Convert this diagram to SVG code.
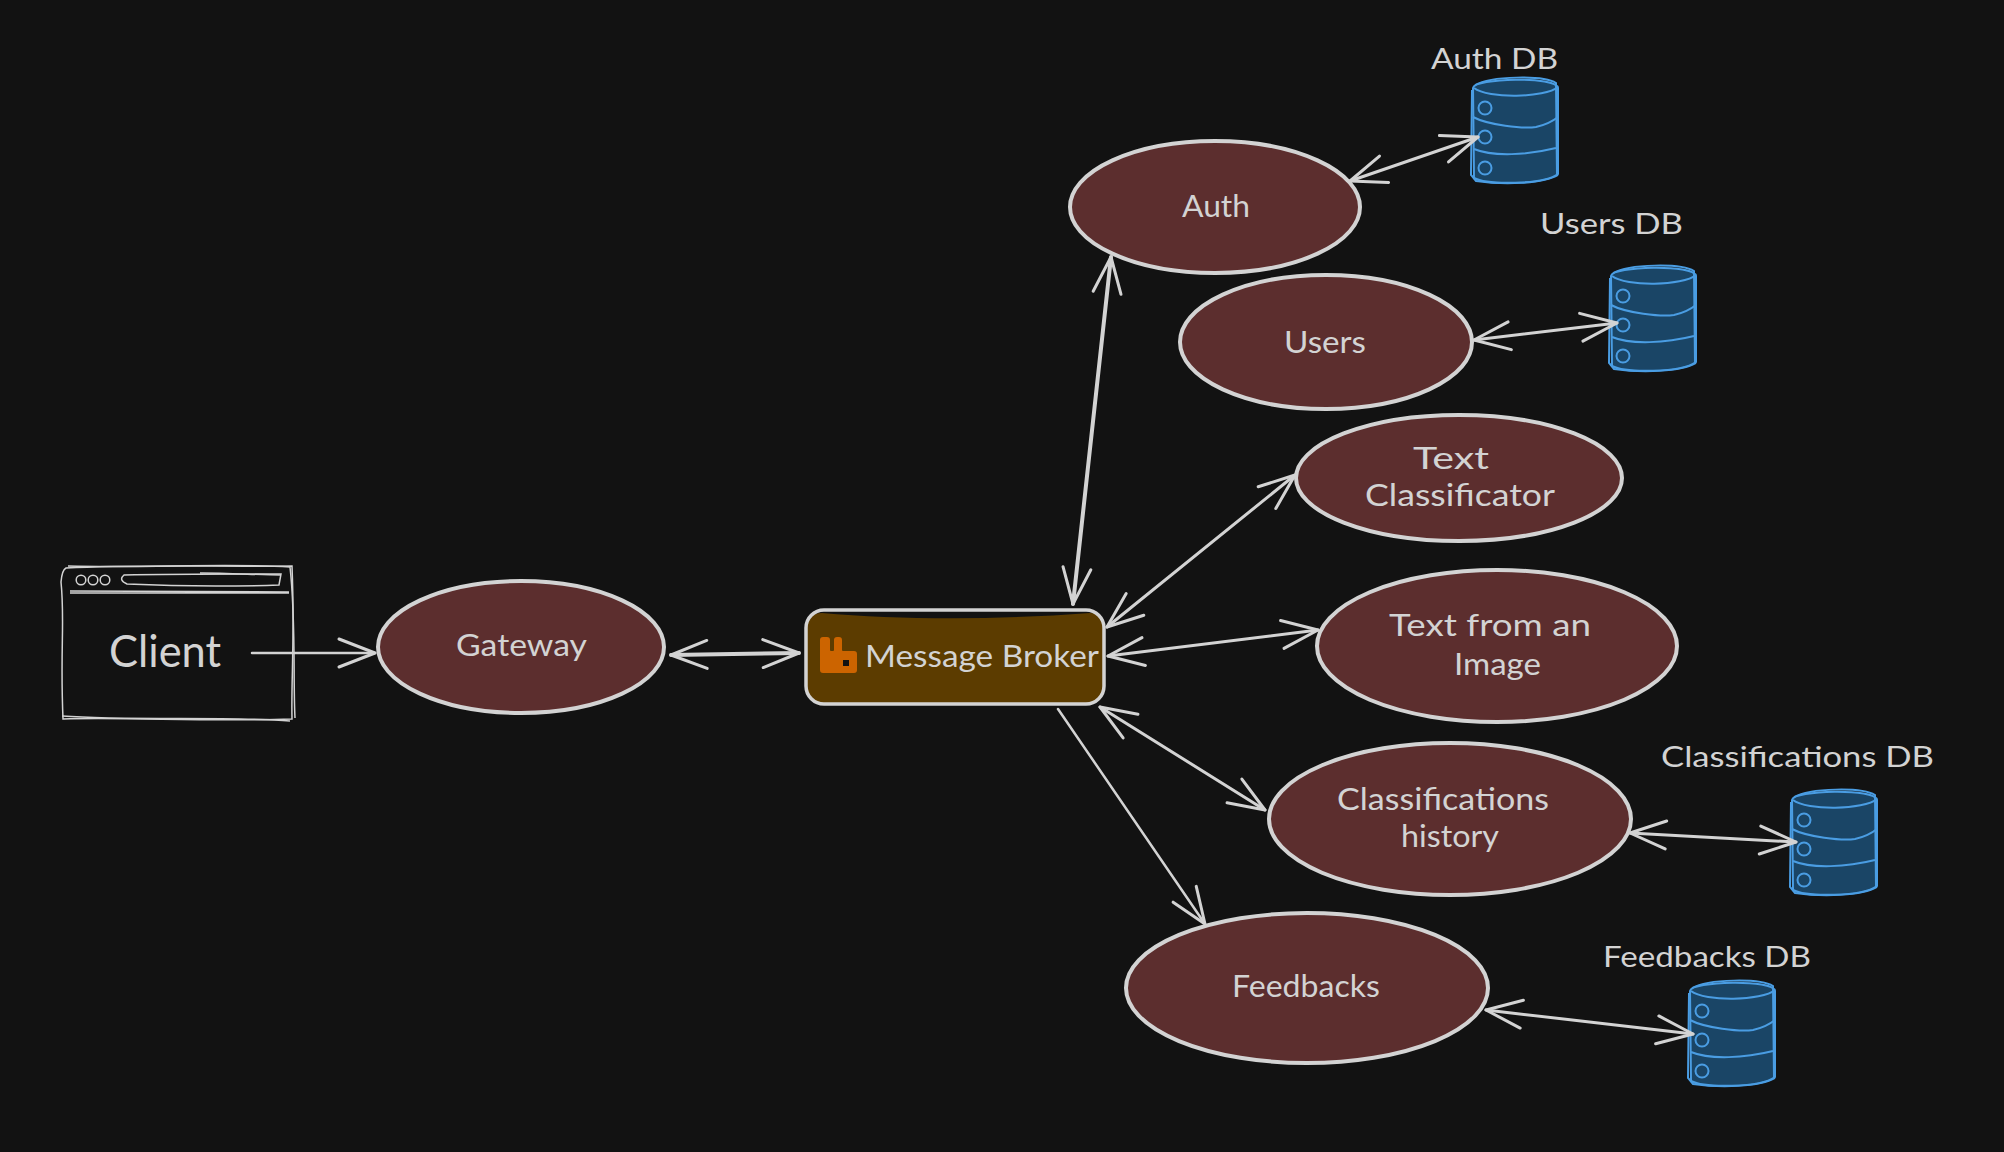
<svg xmlns="http://www.w3.org/2000/svg" width="2004" height="1152" viewBox="0 0 2004 1152">
<style>
.bg{fill:#121212}
.svc{fill:#5c2e2e;stroke:#d3d3d3;stroke-width:4}
.sk{fill:none;stroke:#d3d3d3;stroke-width:1.5}
.lbl{fill:#d3d3d3;font-family:"Lato","Liberation Sans",sans-serif;font-size:30px}
.sm{font-size:29px}
.cn{fill:none;stroke:#d3d3d3;stroke-linecap:round;stroke-linejoin:round}
.w2{stroke-width:2.5}.w3{stroke-width:3}.w4{stroke-width:4}
.dbf{fill:#1a4566;stroke:#4a9de3;stroke-width:2}
.dbl{fill:none;stroke:#4a9de3;stroke-width:2}
</style>
<defs>
<marker id="h" viewBox="-40 -20 44 40" markerUnits="userSpaceOnUse" markerWidth="44" markerHeight="40" refX="0" refY="0" orient="auto-start-reverse">
<path d="M-36,-14 L0,0 L-36,14" fill="none" stroke="#d3d3d3" stroke-width="3" stroke-linecap="round" stroke-linejoin="round"/>
</marker>
<g id="db">
<path class="dbf" d="M0,13 C1,3 84,1 85,13 L85,99 C70,110 14,110 1,103 Z"/>
<path class="dbl" d="M2,10 C18,1 70,0 83,8 L84,100 M-1,15 L-2,100 L3,106 C30,110 70,109 85,100"/>
<path class="dbl" d="M1,13 C15,24 72,23 85,12"/>
<path class="dbl" d="M0,42 C15,50 50,54 63,52 C72,50 80,46 85,42"/>
<path class="dbl" d="M1,74 C20,82 55,80 83,73"/>
<circle class="dbl" cx="12" cy="33" r="6.5"/>
<circle class="dbl" cx="12" cy="62" r="6.5"/>
<circle class="dbl" cx="12" cy="93" r="6.5"/>
</g>
</defs>
<rect class="bg" width="2004" height="1152"/>
<g id="client">
<path class="sk" d="M66,568 C140,564 220,567 292,566 C295,640 291,680 292,719 C210,722 130,717 63,719 C60,650 65,620 61,582 Q62,570 66,568 Z"/>
<path class="sk" d="M68,566 C150,568 230,563 290,567 C296,620 293,680 295,718 M62,716 C130,721 230,716 290,721"/>
<circle class="sk" cx="81" cy="580" r="4.8"/><circle class="sk" cx="93" cy="580" r="4.8"/><circle class="sk" cx="105" cy="580" r="4.8"/>
<path class="sk" d="M124,575 C170,574 230,574 281,574 L279,585 C220,587 170,586 127,584 Q118,580 124,575 Z"/>
<path class="sk" d="M200,573 C230,573 260,575 281,575"/>
<path class="sk" d="M70,591 L289,592 M70,593 L289,593"/>
<text class="lbl" x="109" y="667" font-size="44" style="font-size:44px" textLength="112" lengthAdjust="spacingAndGlyphs">Client</text>
</g>
<g id="gateway">
<ellipse class="svc" cx="521" cy="647" rx="143" ry="66"/>
<text class="lbl" x="456" y="656" textLength="131" lengthAdjust="spacingAndGlyphs">Gateway</text>
</g>
<g id="broker">
<path d="M822,613 C900,620 1000,620 1090,613 Q1103,613 1103,628 L1103,688 Q1103,703 1088,703 L822,703 Q807,703 807,688 L807,628 Q807,613 822,613 Z" fill="#5c3c00"/>
<rect x="806" y="610" width="298" height="94" rx="18" fill="none" stroke="#d3d3d3" stroke-width="3.5"/>
<path d="M823,637 Q820,637 820,640 L820,670 Q820,673 823,673 L854,673 Q857,673 857,670 L857,654 Q857,651 854,651 L843,651 Q842,651 842,650 L842,640 Q842,637 839,637 L837,637 Q834,637 834,640 L834,650 Q834,651 833,651 L831,651 Q830,651 830,650 L830,640 Q830,637 827,637 Z" fill="#cc6400"/>
<rect x="843" y="660" width="6" height="6" fill="#121212"/>
<text class="lbl" x="865" y="667" textLength="234" lengthAdjust="spacingAndGlyphs">Message Broker</text>
</g>
<g id="auth">
<ellipse class="svc" cx="1215" cy="207" rx="145" ry="66"/>
<text class="lbl" x="1182" y="217" textLength="68" lengthAdjust="spacingAndGlyphs">Auth</text>
</g>
<g id="users">
<ellipse class="svc" cx="1326" cy="342" rx="146" ry="67"/>
<text class="lbl" x="1284" y="353" textLength="82" lengthAdjust="spacingAndGlyphs">Users</text>
</g>
<g id="text-classificator">
<ellipse class="svc" cx="1459" cy="478" rx="163" ry="63"/>
<text class="lbl" x="1413" y="469" textLength="76" lengthAdjust="spacingAndGlyphs">Text</text>
<text class="lbl" x="1365" y="506" textLength="190" lengthAdjust="spacingAndGlyphs">Classificator</text>
</g>
<g id="text-from-image">
<ellipse class="svc" cx="1497" cy="646" rx="180" ry="76"/>
<text class="lbl" x="1389" y="636" textLength="202" lengthAdjust="spacingAndGlyphs">Text from an</text>
<text class="lbl" x="1454" y="675" textLength="87" lengthAdjust="spacingAndGlyphs">Image</text>
</g>
<g id="classifications-history">
<ellipse class="svc" cx="1450" cy="819" rx="181" ry="76"/>
<text class="lbl" x="1337" y="810" textLength="212" lengthAdjust="spacingAndGlyphs">Classifications</text>
<text class="lbl" x="1401" y="847" textLength="98" lengthAdjust="spacingAndGlyphs">history</text>
</g>
<g id="feedbacks">
<ellipse class="svc" cx="1307" cy="988" rx="181" ry="75"/>
<text class="lbl" x="1232" y="997" textLength="148" lengthAdjust="spacingAndGlyphs">Feedbacks</text>
</g>
<g id="auth-db">
<use href="#db" x="1473" y="75"/>
<text class="lbl sm" x="1431" y="69" textLength="127" lengthAdjust="spacingAndGlyphs">Auth DB</text>
</g>
<g id="users-db">
<use href="#db" x="1611" y="263"/>
<text class="lbl sm" x="1540" y="234" textLength="143" lengthAdjust="spacingAndGlyphs">Users DB</text>
</g>
<g id="classifications-db">
<use href="#db" x="1792" y="787"/>
<text class="lbl sm" x="1661" y="767" textLength="273" lengthAdjust="spacingAndGlyphs">Classifications DB</text>
</g>
<g id="feedbacks-db">
<use href="#db" x="1690" y="978"/>
<text class="lbl sm" x="1603" y="967" textLength="208" lengthAdjust="spacingAndGlyphs">Feedbacks DB</text>
</g>
<g id="connectors">
<path class="cn w2" d="M252,653 L375,653" marker-end="url(#h)"/>
<path class="cn w4" d="M671,655 L799,653" marker-start="url(#h)" marker-end="url(#h)"/>
<path class="cn w4" d="M1073,604 L1111,257" marker-start="url(#h)" marker-end="url(#h)"/>
<path class="cn w3" d="M1107,627 L1295,475" marker-start="url(#h)" marker-end="url(#h)"/>
<path class="cn w3" d="M1108,656 L1318,630" marker-start="url(#h)" marker-end="url(#h)"/>
<path class="cn w3" d="M1100,707 L1265,810" marker-start="url(#h)" marker-end="url(#h)"/>
<path class="cn w2" d="M1058,709 L1205,924" marker-end="url(#h)"/>
<path class="cn w3" d="M1486,1010 L1693,1034" marker-start="url(#h)" marker-end="url(#h)"/>
<path class="cn w3" d="M1630,833 L1796,842" marker-start="url(#h)" marker-end="url(#h)"/>
<path class="cn w3" d="M1474,340 L1617,323" marker-start="url(#h)" marker-end="url(#h)"/>
<path class="cn w3" d="M1350,181 L1478,137" marker-start="url(#h)" marker-end="url(#h)"/>
</g>
</svg>
